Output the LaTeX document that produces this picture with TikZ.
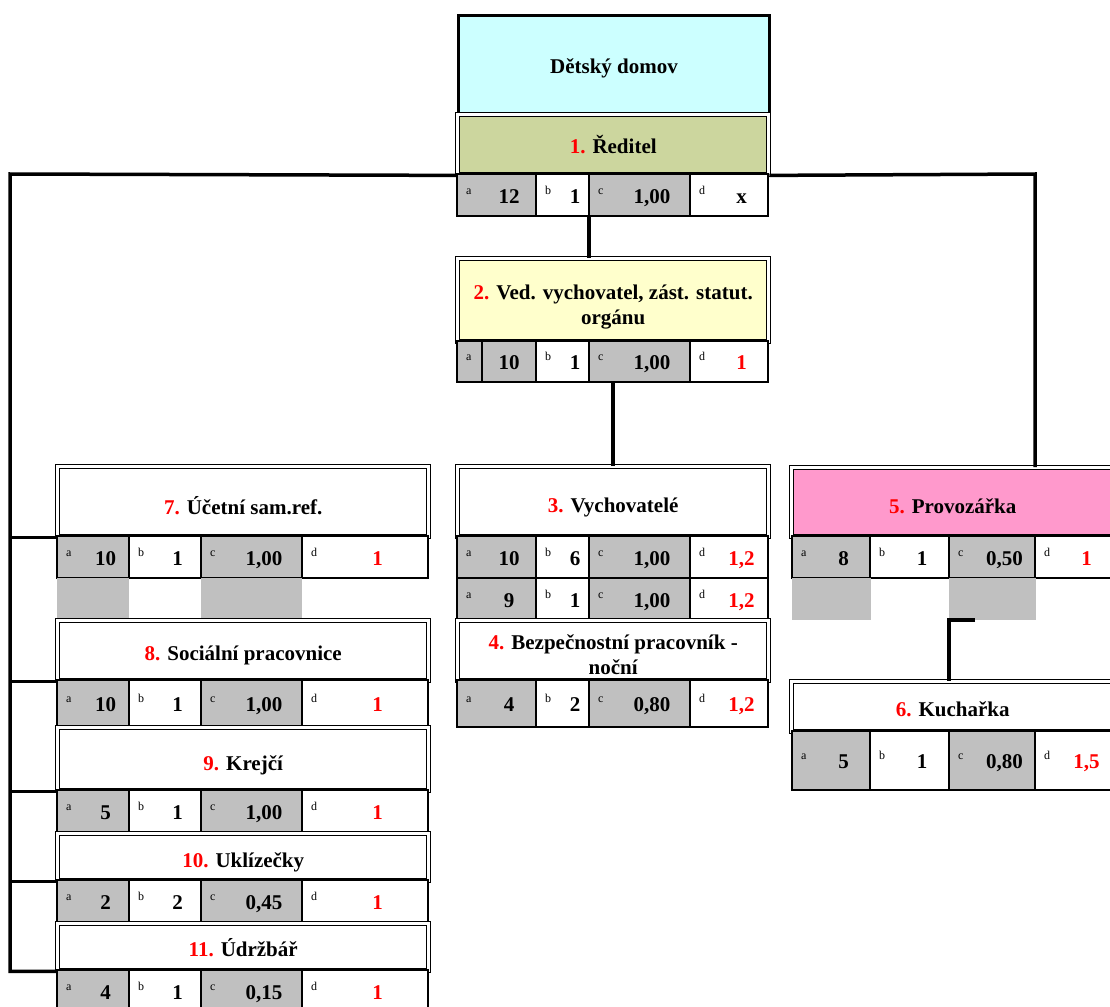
\documentclass[tikz,border=0pt]{standalone}
\usepackage{fontspec}
\setmainfont{Liberation Serif}
\usepackage{xcolor}
\usepackage{tikz}
\definecolor{orgCyan}{HTML}{CCFFFF}
\definecolor{orgOlive}{HTML}{CCD69E}
\definecolor{orgCream}{HTML}{FFFFCC}
\definecolor{orgPink}{HTML}{FF99CC}
\definecolor{orgGray}{HTML}{C0C0C0}
\definecolor{orgRed}{HTML}{FF0000}
\usetikzlibrary{positioning,calc}

\newcommand{\rnum}[1]{\textcolor{orgRed}{#1}}
\newcommand{\setcols}[5]{\def\cA{#1}\def\cB{#2}\def\cC{#3}\def\cD{#4}\def\cE{#5}}
% name, top, bottom, a, b, c, d
\newcommand{\staffrow}[7]{%
  \node[cell, fill=orgGray, minimum width={(\cB-\cA)*1pt}, minimum height={(#3-#2)*1pt}] (#1-a) at (\cA,#2) {};
  \node[cell, fill=white,   minimum width={(\cC-\cB)*1pt}, minimum height={(#3-#2)*1pt}] (#1-b) at (\cB,#2) {};
  \node[cell, fill=orgGray, minimum width={(\cD-\cC)*1pt}, minimum height={(#3-#2)*1pt}] (#1-c) at (\cC,#2) {};
  \node[cell, fill=white,   minimum width={(\cE-\cD)*1pt}, minimum height={(#3-#2)*1pt}] (#1-d) at (\cD,#2) {};
  \foreach \k in {a,b,c,d}
    \node[tag] at ([shift={(9pt,1pt)}]#1-\k.west) {\k};
  \node[val] at ([shift={(12.5pt,-8pt)}]#1-a.center) {#4};
  \node[val] at ([shift={(12.5pt,-8pt)}]#1-b.center) {#5};
  \node[val] at ([shift={(12.5pt,-8pt)}]#1-c.center) {#6};
  \node[val] at ([shift={(12.5pt,-8pt)}]#1-d.center) {#7};
}

\begin{document}
\begin{tikzpicture}[
  x=1pt, y=-1pt,
  headbox/.style={draw=black, line width=3pt, anchor=north west, minimum width=311pt, inner sep=2pt, font=\fontsize{21}{25}\selectfont\bfseries},
  rolebox/.style={draw=black, double, double distance=2.5pt, line width=1.4pt, anchor=north west, inner sep=2pt, align=center, font=\fontsize{21}{25}\selectfont\bfseries},
  drop/.style={execute at begin node={\rule{0pt}{#1}}},
  midcol/.style={minimum width=311pt},
  leftcol/.style={minimum width=371pt},
  rightcol/.style={minimum width=322pt},
  cell/.style={draw=black, line width=2.2pt, anchor=north west, inner sep=0pt, outer sep=0pt},
  stub/.style={fill=orgGray, anchor=north west, inner sep=0pt, outer sep=0pt},
  tag/.style={font=\fontsize{12}{14}\selectfont, anchor=base west, inner sep=0pt},
  val/.style={font=\fontsize{21}{25}\selectfont\bfseries, anchor=base, inner sep=0pt},
  link/.style={line width=3.5pt, black}
]
\useasboundingbox (0,0) rectangle (1110,1006);
\clip (0,0) rectangle (1110,1006);

% Top
\node[headbox, fill=orgCyan, minimum height=99pt, drop=21pt] (home) at (457,14) {Dětský domov};
\node[rolebox, midcol, fill=orgOlive, minimum height=60pt] (dir) at (457,114) {\rnum{1.} Ředitel};
\setcols{457}{536}{589}{690}{768}
\staffrow{dir}{174}{216}{12}{1}{1,00}{x}

% Middle column
\node[rolebox, midcol, fill=orgCream, minimum height=83pt] (deputy) at (457,258) {\rule{0pt}{29pt}\rnum{2.} Ved. vychovatel, zást. statut.\\ orgánu};
\staffrow{dep}{341}{382}{10}{1}{1,00}{\rnum{1}}
\draw[line width=2.2pt] ([xshift=25pt]dep-a.north west) -- ([xshift=25pt]dep-a.south west);
\node[rolebox, midcol, fill=white, minimum height=70pt, drop=27pt] (educ) at (457,466) {\rnum{3.} Vychovatelé};
\staffrow{educA}{536}{578}{10}{6}{1,00}{\rnum{1,2}}
\staffrow{educB}{578}{620}{9}{1}{1,00}{\rnum{1,2}}
\node[rolebox, midcol, fill=white, minimum height=60pt] (guard) at (457,620) {\rule{0pt}{22pt}\rnum{4.} Bezpečnostní pracovník -\\ noční};
\staffrow{guard}{680}{727}{4}{2}{0,80}{\rnum{1,2}}

% Right column
\node[rolebox, rightcol, fill=orgPink, minimum height=69pt, drop=22pt] (ops) at (791,467) {\rnum{5.} Provozářka};
\setcols{792}{870}{949}{1035}{1113}
\staffrow{ops}{536}{578}{8}{1}{0,50}{\rnum{1}}
\node[stub, minimum width=79pt, minimum height=42pt] (ops-sa) at (792,578) {};
\node[stub, minimum width=87pt, minimum height=42pt] (ops-sc) at (949,578) {};
\node[rolebox, rightcol, fill=white, minimum height=50pt, drop=19pt] (cook) at (791,681) {\rnum{6.} Kuchařka};
\staffrow{cook}{731}{790}{5}{1}{0,80}{\rnum{1,5}}

% Left column
\node[rolebox, leftcol, fill=white, minimum height=70pt, drop=25pt] (acct) at (57,466) {\rnum{7.} Účetní sam.ref.};
\setcols{57}{129}{201}{302}{428}
\staffrow{acct}{536}{578}{10}{1}{1,00}{\rnum{1}}
\node[stub, minimum width=72pt, minimum height=42pt] (acct-sa) at (57,578) {};
\node[stub, minimum width=101pt, minimum height=42pt] (acct-sc) at (201,578) {};
\node[rolebox, leftcol, fill=white, minimum height=60pt, drop=25pt] (social) at (57,620) {\rnum{8.} Sociální pracovnice};
\staffrow{social}{680}{727}{10}{1}{1,00}{\rnum{1}}
\node[rolebox, leftcol, fill=white, minimum height=63pt, drop=27pt] (tailor) at (57,727) {\rnum{9.} Krejčí};
\staffrow{tailor}{790}{833}{5}{1}{1,00}{\rnum{1}}
\node[rolebox, leftcol, fill=white, minimum height=47pt, drop=25pt] (clean) at (57,833) {\rnum{10.} Uklízečky};
\staffrow{clean}{880}{922}{2}{2}{0,45}{\rnum{1}}
\node[rolebox, leftcol, fill=white, minimum height=47pt] (maint) at (57,923) {\rnum{11.} Údržbář};
\staffrow{maint}{970}{1013}{4}{1}{0,15}{\rnum{1}}

% Connectors
\coordinate (trunkL) at (10,174);
\coordinate (trunkR) at (1035,174);
\draw[link] (dir.south west) -- (trunkL) |- (maint.south west);
\foreach \n in {acct,social,tailor,clean}
  \draw[link] (trunkL |- \n.south west) -- (\n.south west);
\draw[link] (dir.south east) -- (trunkR) -- (trunkR |- ops.north);
\draw[link] (dir-c.south west) -- (dir-c.south west |- deputy.north);
\draw[link] (educ.north |- dep-c.south) -- (educ.north);
\draw[link] ([xshift=26pt]ops-sc.south west) -- (ops-sc.south west) -- (ops-sc.south west |- cook.north);

\end{tikzpicture}
\end{document}
